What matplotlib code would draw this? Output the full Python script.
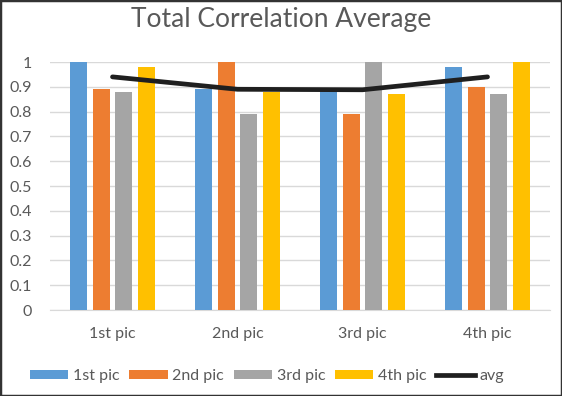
import matplotlib
matplotlib.use("Agg")
import matplotlib.pyplot as plt
from matplotlib.patches import Rectangle, Patch
from matplotlib.lines import Line2D
import numpy as np

plt.rcParams['font.family'] = ['Lato', 'DejaVu Sans']

categories = ["1st pic", "2nd pic", "3rd pic", "4th pic"]
series_names = ["1st pic", "2nd pic", "3rd pic", "4th pic"]
s1 = [1.00, 0.89, 0.89, 0.98]
s2 = [0.89, 1.00, 0.79, 0.90]
s3 = [0.88, 0.79, 1.00, 0.87]
s4 = [0.98, 0.88, 0.87, 1.00]
avg = [0.94, 0.89, 0.888, 0.94]
yticks = [0, 0.1, 0.2, 0.3, 0.4, 0.5, 0.6, 0.7, 0.8, 0.9, 1]
ytick_labels = ["0", "0.1", "0.2", "0.3", "0.4", "0.5", "0.6", "0.7", "0.8", "0.9", "1"]

colors = ["#5B9BD5", "#ED7D31", "#A5A5A5", "#FFC000"]
text_color = "#595959"

fig = plt.figure(figsize=(5.62, 3.96), dpi=100)
ax = fig.add_axes([50/562, 1-310/396, 500/562, 248/396])

x = np.arange(len(categories)) + 0.5
offsets = [-0.27, -0.09, 0.09, 0.27]
width = 0.136
for vals, off, c in zip([s1, s2, s3, s4], offsets, colors):
    ax.bar(x + off, vals, width=width, color=c, zorder=3, clip_on=False)
ax.plot(x, avg, color="#1f1f1f", lw=3.4, zorder=4, solid_capstyle='round')

ax.set_xlim(0, 4)
ax.set_ylim(0, 1)
ax.set_yticks(yticks)
ax.set_yticklabels(ytick_labels)
ax.set_xticks(x)
ax.set_xticklabels(categories)
ax.grid(axis='y', color="#D9D9D9", lw=1, zorder=0)
for s in ["top", "right", "left"]:
    ax.spines[s].set_visible(False)
ax.spines["bottom"].set_color("#D9D9D9")
ax.tick_params(axis='both', length=0, colors=text_color, labelsize=11.5)
ax.tick_params(axis='x', pad=12)
ax.tick_params(axis='y', pad=13)

fig.text(0.5, 1-20/396, "Total Correlation Average", ha='center', va='center',
         fontsize=19, color=text_color)

handles = [Patch(facecolor=c, edgecolor='none') for c in colors]
handles.append(Line2D([0], [0], color="#1f1f1f", lw=3.4))
labels = series_names + ["avg"]
leg = fig.legend(handles, labels, loc='center', bbox_to_anchor=(0.475, 1-376/396), ncol=5,
                 frameon=False, fontsize=11.5, handlelength=2.4, handleheight=0.55,
                 handletextpad=0.3, columnspacing=0.6, labelcolor=text_color)

fig.add_artist(Rectangle((0, 0), 1, 1, transform=fig.transFigure, fill=False,
                         edgecolor="#333333", lw=2.5))

fig.savefig("out.png", dpi=100)
